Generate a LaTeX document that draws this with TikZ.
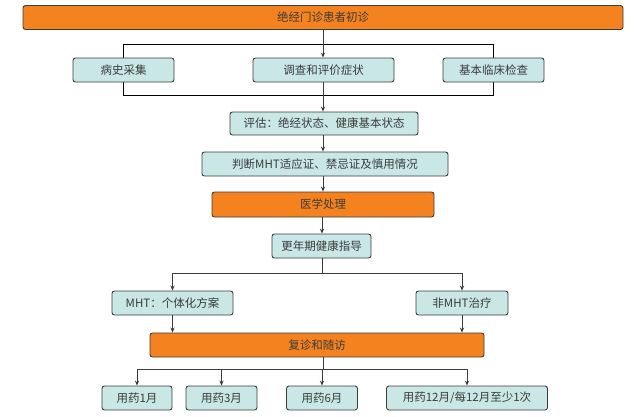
\documentclass[tikz,border=0pt]{standalone}
\usepackage{fontspec}
\setmainfont{Noto Sans CJK SC}
\usepackage{tikz}
\usetikzlibrary{shapes,arrows.meta}
\usetikzlibrary{positioning,backgrounds}
\definecolor{boxorange}{HTML}{F4821F}
\definecolor{boxcyan}{HTML}{C8E7E5}
\definecolor{boxline}{HTML}{3C3C3C}
\tikzset{every box/.style={draw=boxline, line width=0.9pt, rounded corners=2.5pt,
  minimum height=24pt, inner sep=0pt, text=boxline,
  font=\fontsize{11.5}{13}\selectfont},
orange box/.style={every box, fill=boxorange},
cyan box/.style={every box, fill=boxcyan}
}

\begin{document}
\begin{tikzpicture}[> = {Stealth[length=5pt, width=4.2pt]}, x=1pt, y=-1pt, line width=0.8pt, draw=boxline]
    \useasboundingbox (0,0) rectangle (640,416);
    \node[orange box, minimum width=600pt] (a_0) at (323,17.5) {绝经门诊患者初诊};
    \node[cyan box, minimum width=101pt]   (b_1) at (123.5,70)  {病史采集};
    \node[cyan box, minimum width=141pt]   (b_2) at (323.5,70)  {调查和评价症状};
    \node[cyan box, minimum width=101pt]   (b_3) at (493.5,70)  {基本临床检查};
    \node[cyan box, minimum width=188pt, minimum height=23pt] (c_1) at (324,123.5) {评估：绝经状态、健康基本状态};
    \node[cyan box, minimum width=246pt]   (c_2) at (325,164)   {判断MHT适应证、禁忌证及慎用情况};
    \node[orange box, minimum width=222pt, minimum height=25pt] (d_0) at (323,204.5) {医学处理};
    \node[cyan box, minimum width=99pt]    (d_1) at (321.5,246) {更年期健康指导};
    \node[cyan box, minimum width=121pt]   (e_1) at (172.5,303) {MHT：个体化方案};
    \node[cyan box, minimum width=92pt]    (e_2) at (462,303)   {非MHT治疗};
    \node[orange box, minimum width=334pt] (f_0) at (317,345)   {复诊和随访};
    \node[cyan box, minimum width=70pt]    (g_1) at (137,398)   {用药1月};
    \node[cyan box, minimum width=71pt]    (g_2) at (221.5,398) {用药3月};
    \node[cyan box, minimum width=71pt]    (g_3) at (322,398)   {用药6月};
    \node[cyan box, minimum width=161pt]   (g_4) at (467,398)   {用药12月/每12月至少1次};

    \coordinate (j_1) at (323,44);
    \coordinate (j_2) at (323,95);
    \coordinate (j_3) at (322,273);
    \coordinate (j_4) at (323,369);

    \begin{scope}[on background layer]
    \draw (b_1 |- j_1) -- (b_3 |- j_1) -- (b_3 |- j_2) -- (b_1 |- j_2) -- cycle;
    \end{scope}

    \draw[->] (a_0.south -| j_1) -- (b_2.north -| j_1);
    \draw[->] (b_2.south -| j_2) -- (c_1.north -| j_2);
    \draw[->] (c_1.south -| j_2) -- (c_2.north -| j_2);
    \draw[->] (c_2.south -| j_2) -- (d_0.north -| j_2);
    \draw[->] (d_0.south -| j_3) -- (d_1.north -| j_3);
    \draw (d_1.south -| j_3) -- (j_3);
    \draw[->] (j_3) -| (e_1);
    \draw[->] (j_3) -| (e_2);
    \draw[->] (e_1) -- (e_1 |- f_0.north);
    \draw[->] (e_2) -- (e_2 |- f_0.north);
    \draw (f_0.south -| j_4) -- (j_4);
    \foreach \g in {g_1,g_2,g_3,g_4}
      \draw[->] (j_4) -| (\g);
  \end{tikzpicture}
\end{document}
